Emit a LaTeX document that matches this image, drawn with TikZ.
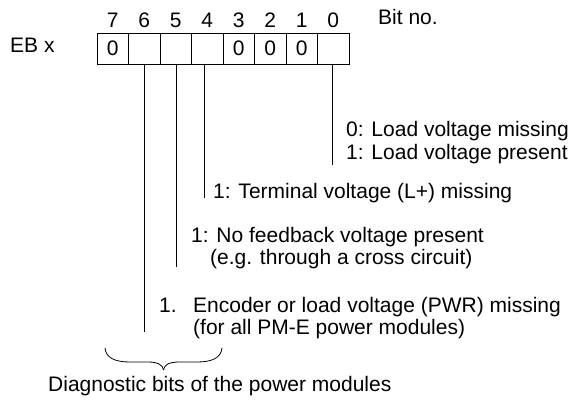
\documentclass[tikz,border=0pt]{standalone}
\usepackage{fontspec}
\setmainfont{Liberation Sans}
\begin{document}
\begin{tikzpicture}[x=1pt,y=-1pt,
  cell/.style={draw,line width=0.9pt,minimum width=31.5pt,minimum height=31pt,inner sep=0pt,font=\fontsize{21}{23}\selectfont},
  lbl/.style={anchor=base west,inner sep=0pt,font=\fontsize{21}{23}\selectfont},
  bitnum/.style={anchor=base,inner sep=0pt,font=\fontsize{21}{23}\selectfont},
  conn/.style={line width=0.8pt},
  brc/.style={line width=0.8pt}]
\useasboundingbox (0,0) rectangle (576,404);
% register cells
\foreach \i/\v [count=\k from 0] in {7/0,6/{},5/{},4/{},3/0,2/0,1/0,0/{}} {
  \node[cell] (c\i) at ({112.75+31.5*\k},48.5) {\v};
  \node[bitnum] (n\i) at ({112.75+31.5*\k},28) {\i};
}
\node[lbl] (bitno) at (378,25) {Bit no.};
\node[lbl] (eb) at (10,53) {EB x};
% endpoints
\coordinate (e0) at (332,165);
\coordinate (e4) at (204,198);
\coordinate (e5) at (176,267);
\coordinate (e6) at (144,332);
\draw[conn] (e0 |- c0.south) -- (e0);
\draw[conn] (e4 |- c4.south) -- (e4);
\draw[conn] (e5 |- c5.south) -- (e5);
\draw[conn] (e6 |- c6.south) -- (e6);
% texts
\node[lbl] (t0a) at (346,136) {0: Load voltage missing};
\node[lbl] (t0b) at (346,159) {1: Load voltage present};
\node[lbl] (t4) at (213,198) {1: Terminal voltage (L+) missing};
\node[lbl] (t5a) at (191,242) {1: No feedback voltage present};
\node[lbl] (t5b) at (210,264) {(e.g. through a cross circuit)};
\node[lbl] (t6n) at (159,312) {1.};
\node[lbl] (t6a) at (193,312) {Encoder or load voltage (PWR) missing};
\node[lbl] (t6b) at (193,334) {(for all PM-E power modules)};
% brace
\coordinate (bl) at (105,348);
\coordinate (br) at (222,348);
\coordinate (bt) at (163.5,370);
\draw[brc] (bl) .. controls (106,358) and (115,362) .. (130,362) -- (148,362)
  .. controls (158,362) and (163,365) .. (bt);
\draw[brc] (br) .. controls (221,358) and (212,362) .. (197,362) -- (179,362)
  .. controls (169,362) and (164,365) .. (bt);
\node[lbl] (diag) at (48,391) {Diagnostic bits of the power modules};
\end{tikzpicture}
\end{document}
